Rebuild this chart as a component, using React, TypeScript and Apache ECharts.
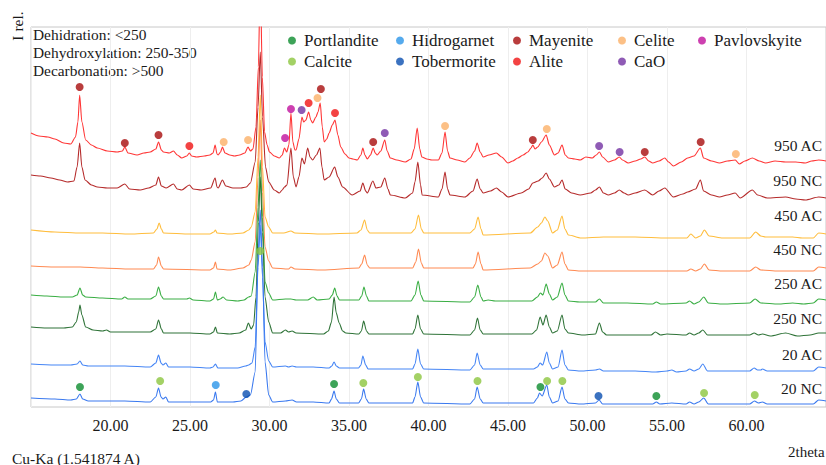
import React, { useEffect, useRef } from "react";
import * as echarts from "echarts";

// ---- Data (2theta, relative intensity with vertical offsets) ----
const trace950AC: number[][] = [[15.0,274],[15.5,271],[16.06,270],[16.5,268],[17.06,264],[17.5,263],[17.8,270],[17.95,285],[18.06,312],[18.2,285],[18.44,267],[18.8,262],[19.17,259],[19.8,256],[20.42,255],[20.75,256],[20.9,260],[21.1,254],[21.67,252],[22.1,254],[22.5,255],[22.85,258],[23.02,265],[23.2,257],[23.33,255],[23.7,254],[23.96,256],[24.2,252],[24.48,249],[24.8,251],[24.96,254],[25.1,251],[25.42,250],[25.9,251],[26.25,252],[26.45,254],[26.58,262],[26.7,253],[26.77,252],[26.92,255],[27.04,260],[27.2,254],[27.5,252],[27.8,251],[28.12,252],[28.45,254],[28.65,260],[28.8,256],[28.96,258],[29.15,280],[29.3,340],[29.42,430],[29.55,330],[29.69,275],[29.85,262],[30.0,255],[30.3,251],[30.62,249],[30.8,252],[30.94,259],[31.08,255],[31.22,262],[31.35,294],[31.47,265],[31.6,257],[31.67,257],[31.85,268],[32.04,290],[32.15,285],[32.29,287],[32.46,295],[32.6,287],[32.71,284],[32.92,290],[33.05,295],[33.19,304],[33.32,280],[33.44,265],[33.6,268],[33.75,274],[33.95,282],[34.12,287],[34.3,272],[34.48,260],[34.75,253],[35.0,249],[35.25,248],[35.52,247],[35.75,252],[35.87,259],[36.0,252],[36.15,248],[36.35,252],[36.52,259],[36.65,254],[36.77,252],[37.0,256],[37.25,267],[37.4,256],[37.6,249],[38.0,247],[38.54,245],[38.9,248],[39.1,258],[39.29,279],[39.45,258],[39.58,250],[39.9,248],[40.21,247],[40.62,247],[40.85,254],[41.04,275],[41.2,256],[41.35,249],[41.8,247],[42.29,245],[42.6,249],[42.9,256],[43.06,264],[43.25,255],[43.44,250],[43.8,252],[44.27,254],[44.6,250],[45.0,244],[45.3,246],[45.62,249],[45.95,252],[46.25,255],[46.45,259],[46.56,262],[46.7,258],[46.87,260],[47.1,265],[47.4,272],[47.6,262],[47.92,252],[48.15,254],[48.4,262],[48.6,252],[48.8,249],[49.2,248],[49.54,247],[49.9,250],[50.3,249],[50.55,252],[50.75,255],[50.95,250],[51.31,245],[51.7,247],[52.0,250],[52.2,247],[52.56,244],[53.0,246],[53.35,248],[53.6,250],[53.85,246],[54.1,244],[54.5,246],[54.86,249],[55.1,245],[55.4,241],[55.9,245],[56.3,249],[56.7,251],[57.1,259],[57.3,249],[57.8,246],[58.3,244],[58.8,246],[59.29,247],[59.55,243],[59.9,246],[60.37,249],[60.8,246],[61.2,244],[61.8,246],[62.46,245],[63.1,245],[63.7,244],[64.1,246],[64.54,247],[65.0,246]];

const trace950NC: number[][] = [[15.0,232],[15.6,231],[16.25,229],[16.8,227],[17.3,225],[17.7,226],[17.9,240],[18.06,264],[18.2,240],[18.4,227],[18.8,222],[19.17,220],[19.8,219],[20.42,219],[20.9,223],[21.2,218],[21.87,217],[22.4,219],[22.85,222],[23.02,230],[23.2,221],[23.5,219],[23.96,223],[24.2,218],[24.48,217],[24.96,222],[25.2,218],[25.7,217],[26.3,219],[26.58,229],[26.7,220],[26.77,219],[27.04,227],[27.25,221],[27.7,219],[28.2,219],[28.54,220],[28.8,224],[29.1,245],[29.28,300],[29.42,355],[29.56,290],[29.75,240],[29.95,225],[30.3,217],[30.62,214],[30.8,217],[30.94,220],[31.1,222],[31.35,259],[31.5,230],[31.67,220],[31.85,230],[32.04,249],[32.2,243],[32.4,259],[32.55,250],[32.71,247],[32.95,252],[33.17,259],[33.3,240],[33.44,227],[33.75,230],[34.1,240],[34.3,230],[34.6,220],[35.2,212],[35.7,216],[35.87,224],[36.05,216],[36.15,214],[36.5,226],[36.7,219],[37.0,220],[37.25,229],[37.45,218],[37.6,212],[38.54,209],[39.0,214],[39.15,225],[39.33,245],[39.5,222],[39.6,212],[40.62,210],[40.85,218],[41.04,235],[41.2,218],[41.35,212],[42.29,210],[42.8,216],[43.06,228],[43.25,218],[43.44,214],[43.9,216],[44.27,219],[44.6,215],[45.0,210],[45.83,214],[46.3,218],[46.56,224],[46.9,226],[47.15,229],[47.4,234],[47.6,228],[47.92,220],[48.2,222],[48.4,227],[48.6,218],[49.0,214],[49.54,212],[50.2,214],[50.5,217],[50.75,220],[51.0,214],[51.31,212],[51.7,214],[52.0,217],[52.3,214],[52.56,212],[53.0,214],[53.6,217],[54.1,212],[54.5,216],[54.86,219],[55.4,210],[56.0,213],[56.3,215],[56.8,218],[57.1,227],[57.3,216],[57.8,212],[58.3,210],[58.8,212],[59.29,214],[59.6,209],[60.37,217],[60.7,212],[61.3,209],[62.46,210],[63.1,208],[63.7,207],[64.54,210],[65.0,209]];

const trace450AC: number[][] = [[15.0,177],[16.5,175],[18.12,174],[19.5,174],[21.25,173],[22.7,174],[22.92,178],[23.06,184],[23.2,178],[23.33,174],[25.0,173],[26.25,173],[26.5,175],[26.6,177],[26.7,174],[27.5,173],[28.33,174],[28.7,177],[28.85,180],[29.1,195],[29.28,250],[29.42,312],[29.56,240],[29.72,190],[29.95,180],[30.2,174],[30.9,174],[31.35,176],[31.6,174],[33.33,173],[35.5,174],[35.75,177],[35.98,187],[36.15,177],[36.3,174],[38.9,174],[39.15,178],[39.37,192],[39.55,178],[39.7,174],[42.6,174],[42.9,178],[43.12,190],[43.3,178],[43.44,172],[46.4,174],[46.87,180],[47.1,184],[47.32,190],[47.5,186],[47.8,174],[48.1,177],[48.4,191],[48.58,178],[48.8,172],[49.6,169],[51.0,170],[53.0,170],[55.0,169],[56.25,169],[56.5,173],[56.8,169],[57.1,171],[57.35,177],[57.65,171],[58.5,169],[60.2,169],[60.58,175],[60.9,171],[61.2,170],[62.9,170],[63.5,169],[64.2,169],[64.54,174],[65.0,173]];

const trace450NC: number[][] = [[15.0,141],[16.5,140],[18.1,140],[19.5,139],[21.25,138],[22.7,138],[22.9,142],[23.02,150],[23.2,141],[23.33,138],[26.25,137],[26.48,139],[26.6,145],[26.7,138],[27.5,137],[28.33,139],[28.7,142],[28.85,147],[29.1,165],[29.28,230],[29.42,287],[29.56,215],[29.72,160],[29.95,146],[30.2,139],[31.2,138],[31.35,140],[31.6,138],[33.33,137],[35.62,139],[35.8,143],[35.98,152],[36.15,142],[36.3,139],[39.0,139],[39.2,145],[39.37,158],[39.55,144],[39.7,139],[42.8,139],[42.95,143],[43.12,155],[43.3,143],[43.44,137],[46.4,139],[46.87,143],[47.1,146],[47.32,154],[47.5,151],[47.8,139],[48.1,142],[48.4,155],[48.58,143],[48.8,137],[49.6,136],[52.0,136],[55.0,136],[56.25,136],[56.5,138],[56.8,136],[57.1,138],[57.35,143],[57.65,137],[58.5,136],[60.2,136],[60.58,140],[60.9,137],[62.0,136],[64.2,136],[64.54,140],[65.0,139]];

const trace250AC: number[][] = [[15.0,112],[16.0,111],[17.06,110],[17.6,110],[17.9,112],[18.08,119],[18.25,112],[18.44,110],[19.5,109],[20.7,108],[20.9,110],[21.1,108],[22.5,108],[22.85,111],[23.02,120],[23.2,111],[23.33,108],[24.8,108],[24.96,109],[25.2,107],[26.25,106],[26.48,108],[26.6,115],[26.72,107],[26.9,108],[27.08,110],[27.3,107],[28.0,106],[28.4,107],[28.69,110],[28.85,111],[29.1,135],[29.28,200],[29.42,247],[29.56,190],[29.72,125],[29.95,114],[30.2,107],[31.0,108],[31.35,108],[31.67,107],[32.4,107],[32.75,110],[33.0,107],[33.75,108],[33.95,112],[34.1,119],[34.25,111],[34.4,107],[35.62,107],[35.8,111],[35.94,120],[36.1,111],[36.25,106],[38.9,106],[39.15,112],[39.35,126],[39.52,112],[39.7,106],[42.6,105],[42.9,110],[43.1,122],[43.3,110],[43.44,106],[43.75,107],[44.2,106],[46.5,106],[46.85,110],[47.04,114],[47.2,112],[47.4,123],[47.6,113],[47.8,107],[48.1,110],[48.4,124],[48.58,112],[48.8,106],[49.5,105],[50.5,105],[50.75,108],[51.0,104],[52.5,104],[54.1,103],[54.33,105],[54.6,103],[56.2,104],[56.42,106],[56.7,103],[57.0,105],[57.31,110],[57.6,104],[58.5,103],[60.2,104],[60.54,108],[60.9,104],[62.0,103],[62.9,104],[63.6,103],[64.2,104],[64.54,108],[65.0,107]];

const trace250NC: number[][] = [[15.0,80],[16.0,79],[17.06,79],[17.6,80],[17.85,85],[18.0,95],[18.08,102],[18.2,92],[18.44,80],[18.9,77],[19.5,76],[19.75,77],[20.0,75],[20.9,75],[22.5,75],[22.85,78],[23.02,87],[23.2,78],[23.33,74],[25.0,74],[26.25,73],[26.48,75],[26.6,80],[26.72,74],[27.5,73],[28.1,74],[28.5,77],[28.67,84],[28.85,78],[29.0,82],[29.15,110],[29.3,185],[29.42,230],[29.56,175],[29.72,110],[29.95,85],[30.2,74],[30.7,74],[31.0,77],[31.2,75],[31.42,76],[31.67,74],[33.4,73],[33.7,76],[33.9,85],[34.06,110],[34.2,94],[34.38,84],[34.6,76],[34.8,74],[35.62,73],[35.78,76],[35.92,86],[36.1,76],[36.25,73],[39.0,73],[39.15,78],[39.33,92],[39.5,78],[39.7,73],[42.6,72],[42.9,77],[43.08,89],[43.25,77],[43.44,73],[46.5,73],[46.8,77],[47.02,90],[47.2,82],[47.4,92],[47.6,80],[47.8,74],[48.1,76],[48.4,92],[48.58,78],[48.8,74],[49.7,72],[50.5,73],[50.75,84],[50.95,75],[51.2,72],[53.0,72],[54.0,72],[54.27,75],[54.6,72],[55.0,73],[56.2,72],[56.42,74],[56.7,72],[57.0,74],[57.25,77],[57.55,72],[59.0,72],[60.2,72],[60.48,74],[60.75,72],[61.0,73],[61.5,71],[62.46,74],[63.2,71],[64.0,72],[64.54,74],[65.0,74]];

const trace20AC: number[][] = [[15.0,43],[16.5,42],[17.5,42],[17.9,43],[18.08,46],[18.25,42],[18.6,41],[20.0,41],[20.9,41],[22.5,40],[22.85,44],[23.02,52],[23.18,44],[23.3,42],[23.48,44],[23.65,40],[25.0,40],[26.25,39],[26.45,40],[26.6,43],[26.75,39],[28.0,39],[28.5,41],[28.69,42],[28.9,44],[29.1,60],[29.28,140],[29.42,182],[29.56,130],[29.72,65],[29.95,46],[30.2,40],[31.0,41],[31.2,40],[31.42,41],[31.7,40],[32.75,40],[33.75,39],[33.92,41],[34.06,45],[34.2,41],[34.4,39],[35.6,39],[35.75,42],[35.87,51],[36.05,42],[36.2,38],[39.0,38],[39.15,43],[39.33,58],[39.5,43],[39.7,38],[42.6,37],[42.9,42],[43.06,54],[43.25,42],[43.44,38],[46.6,38],[46.85,40],[47.02,44],[47.18,42],[47.44,55],[47.6,44],[47.8,38],[48.15,40],[48.4,57],[48.58,42],[48.8,37],[49.6,36],[50.5,37],[50.75,38],[51.0,36],[53.0,36],[54.3,35],[55.0,36],[55.3,37],[55.6,35],[56.2,36],[56.42,38],[56.7,36],[57.0,38],[57.25,43],[57.55,36],[58.5,36],[60.2,36],[60.48,39],[60.7,37],[60.9,37],[61.0,38],[61.3,36],[62.5,36],[64.2,36],[64.54,40],[65.0,39]];

const trace20NC: number[][] = [[15.0,9],[16.5,8],[17.5,7],[17.85,8],[18.08,13],[18.25,8],[18.6,6],[20.0,6],[20.9,6],[22.5,5],[22.85,10],[23.02,19],[23.18,10],[23.3,8],[23.48,10],[23.65,5],[25.0,5],[26.3,5],[26.48,7],[26.6,15],[26.72,5],[27.7,5],[28.2,6],[28.54,10],[28.8,12],[29.1,35],[29.28,150],[29.42,197],[29.56,140],[29.72,45],[29.95,12],[30.2,5],[31.0,6],[31.42,7],[31.7,5],[32.75,5],[33.75,4],[33.9,8],[34.06,16],[34.2,8],[34.4,4],[35.6,4],[35.78,8],[35.92,18],[36.08,8],[36.25,4],[39.0,4],[39.15,10],[39.33,25],[39.5,10],[39.7,4],[42.6,3],[42.9,8],[43.06,20],[43.25,8],[43.44,4],[46.6,4],[46.85,9],[46.98,14],[47.15,11],[47.44,22],[47.6,10],[47.8,4],[48.15,6],[48.4,20],[48.58,8],[48.8,4],[49.6,3],[50.5,4],[50.73,7],[50.95,3],[52.5,3],[54.1,3],[54.33,5],[54.55,3],[55.3,4],[56.2,3],[56.42,5],[56.7,3],[57.0,5],[57.31,9],[57.6,3],[58.5,3],[60.2,3],[60.5,6],[60.75,4],[61.0,5],[61.3,3],[62.5,3],[64.2,3],[64.54,7],[65.0,6]];

// Phase markers
const portlandite: number[][] = [[18.08,20],[34.06,23],[47.04,20],[54.33,11]];
const calcite: number[][] = [[23.12,26],[29.42,156],[35.9,24],[39.33,30],[43.08,26],[47.46,26],[48.42,26],[57.33,14],[60.52,12]];
const hidrogarnet: number[][] = [[26.62,22]];
const tobermorite: number[][] = [[28.54,13],[50.69,11]];
const mayenite: number[][] = [[18.06,320],[20.9,264],[23.02,272],[33.23,318],[36.52,265],[46.56,267],[53.6,255],[57.12,265]];
const alite: number[][] = [[24.96,261],[32.46,304],[34.12,294]];
const celite: number[][] = [[27.12,265],[28.65,267],[33.02,309],[41.04,281],[47.44,278],[59.33,253]];
const cao: number[][] = [[32.02,297],[37.25,274],[50.73,261],[52.02,255]];
const pavlovskyite: number[][] = [[30.98,269],[31.35,298]];

const traceNames = ["950 AC", "950 NC", "450 AC", "450 NC", "250 AC", "250 NC", "20 AC", "20 NC"];
const traceData = [trace950AC, trace950NC, trace450AC, trace450NC, trace250AC, trace250NC, trace20AC, trace20NC];
const traceColors = ["#ff3535", "#b52a2a", "#ffbd3c", "#ff8a52", "#3aae44", "#2f7338", "#4585f5", "#3a79ef"];
const traceLabelY = [145, 180, 215, 249, 283, 318, 354, 388];

const phaseNames = ["Portlandite", "Calcite", "Hidrogarnet", "Tobermorite", "Mayenite", "Alite", "Celite", "CaO", "Pavlovskyite"];
const phaseData = [portlandite, calcite, hidrogarnet, tobermorite, mayenite, alite, celite, cao, pavlovskyite];
const phaseColors = ["#0d8c2e", "#8cc63e", "#2b95e9", "#0a4fb0", "#a80c0c", "#f01414", "#fbb068", "#7332a2", "#c0109c"];

const legendColumns = [["Portlandite", "Calcite"], ["Hidrogarnet", "Tobermorite"], ["Mayenite", "Alite"], ["Celite", "CaO"], ["Pavlovskyite"]];
const legendLeft = [288, 396, 513, 618, 698];

const notes = ["Dehidration: <250", "Dehydroxylation: 250-350", "Decarbonation: >500"];

const FONT = "Liberation Serif";
const INK = "#1a1a1a";

export default function App() {
  const ref = useRef<HTMLDivElement>(null);
  useEffect(() => {
    if (!ref.current) return;
    const chart = echarts.init(ref.current, undefined, { renderer: "svg" });
    const lineSeries = traceData.map((d, i) => ({
      type: "line",
      name: traceNames[i],
      data: d,
      symbol: "none",
      smooth: 0.25,
      smoothMonotone: "x",
      lineStyle: { color: traceColors[i], width: 1.1 },
      z: 2,
      silent: true,
    }));
    const scatterSeries = phaseData.map((d, i) => ({
      type: "scatter",
      name: phaseNames[i],
      data: d,
      symbol: "circle",
      symbolSize: 8,
      itemStyle: { color: phaseColors[i] },
      z: 4,
      silent: true,
    }));
    const legends = legendColumns.map((col, i) => ({
      data: col,
      orient: "vertical",
      left: legendLeft[i],
      top: 32,
      padding: 0,
      itemGap: 4,
      itemWidth: 14,
      itemHeight: 8,
      icon: "circle",
      selectedMode: false,
      textStyle: { fontFamily: FONT, fontSize: 17, color: INK },
    }));
    const graphics: any[] = [];
    notes.forEach((t, i) => {
      graphics.push({
        type: "text",
        x: 33,
        y: 34.3 + i * 18.2,
        style: { text: t, fontFamily: FONT, fontSize: 15.4, fill: INK, verticalAlign: "middle" },
      });
    });
    traceNames.forEach((t, i) => {
      graphics.push({
        type: "text",
        x: 822,
        y: traceLabelY[i],
        style: { text: t, fontFamily: FONT, fontSize: 15.5, fill: INK, align: "right", verticalAlign: "middle" },
      });
    });
    graphics.push({
      type: "text",
      x: 17,
      y: 26,
      rotation: Math.PI / 2,
      style: { text: "I rel.", fontFamily: FONT, fontSize: 15.5, fill: INK, align: "center", verticalAlign: "middle" },
    });
    graphics.push({
      type: "text",
      x: 12,
      y: 458,
      style: { text: "Cu-Ka (1.541874 A)", fontFamily: FONT, fontSize: 15.5, fill: INK, verticalAlign: "middle" },
    });
    graphics.push({
      type: "text",
      x: 788,
      y: 452,
      style: { text: "2theta", fontFamily: FONT, fontSize: 15, fill: INK, verticalAlign: "middle" },
    });

    chart.setOption({
      animation: false,
      backgroundColor: "#ffffff",
      textStyle: { fontFamily: FONT, color: INK },
      grid: { left: 31, top: 27, width: 797, height: 380, show: true, borderColor: "#c8c8c8", borderWidth: 1, backgroundColor: "transparent" },
      xAxis: {
        type: "value",
        min: 15,
        max: 65,
        interval: 5,
        axisLine: { show: false },
        axisTick: { show: false },
        splitLine: { show: true, lineStyle: { color: "#eeeeee", width: 1 } },
        axisLabel: {
          show: true,
          margin: 10,
          showMinLabel: false,
          showMaxLabel: false,
          fontFamily: FONT,
          fontSize: 16,
          color: INK,
          formatter: (v: number) => v.toFixed(2),
        },
      },
      yAxis: {
        type: "value",
        min: 0,
        max: 380,
        axisLine: { show: false },
        axisTick: { show: false },
        axisLabel: { show: false },
        splitLine: { show: false },
      },
      legend: legends,
      series: [...lineSeries, ...scatterSeries],
      graphic: graphics,
    });
    return () => chart.dispose();
  }, []);
  return <div ref={ref} style={{ position: "absolute", left: 0, top: 0, width: 826, height: 465 }} />;
}
